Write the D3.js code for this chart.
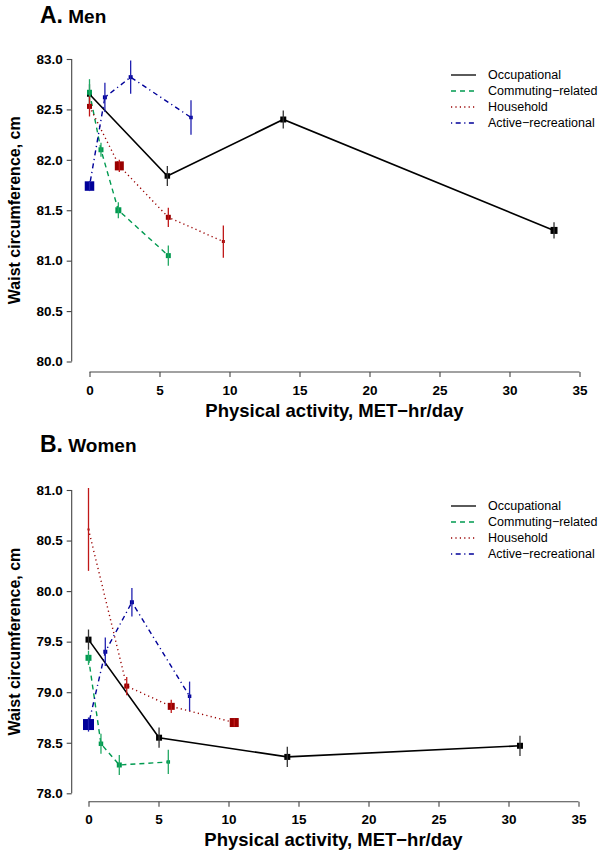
<!DOCTYPE html>
<html><head><meta charset="utf-8">
<script src="https://cdn.jsdelivr.net/npm/d3@7"></script>
<style>
body{margin:0;background:#fff;}
svg{display:block;font-family:"Liberation Sans",Arial,Helvetica,sans-serif;}
</style></head>
<body>
<svg id="chart" width="600" height="854"></svg>
<script>
// ---- data ----
const seriesNames = ["Occupational", "Commuting\u2212related", "Household", "Active\u2212recreational"];
const xTicks = [0, 5, 10, 15, 20, 25, 30, 35];
const yTicksMen = [80.0, 80.5, 81.0, 81.5, 82.0, 82.5, 83.0];
const yTicksWomen = [78.0, 78.5, 79.0, 79.5, 80.0, 80.5, 81.0];

// Men
const menOccX = [0, 5.56, 13.84, 33.18];
const menOccY = [82.65, 81.84, 82.40, 81.30];
const menOccErr = [0.10, 0.10, 0.09, 0.08];
const menOccW = [5, 5.5, 6, 7];
const menComX = [0, 0.82, 2.06, 5.63];
const menComY = [82.67, 82.10, 81.50, 81.05];
const menComErr = [0.13, 0.07, 0.08, 0.10];
const menComW = [5, 5, 6, 5];
const menHouX = [0, 2.13, 5.63, 9.56];
const menHouY = [82.53, 81.94, 81.43, 81.19];
const menHouErr = [0.10, 0.06, 0.095, 0.16];
const menHouW = [5, 9, 5, 3];
const menRecX = [0, 1.10, 2.94, 7.25];
const menRecY = [81.74, 82.62, 82.82, 82.42];
const menRecErr = [0.05, 0.145, 0.165, 0.17];
const menRecW = [9.5, 4, 4, 3.5];

// Women
const womOccX = [0, 5.04, 14.2, 30.82];
const womOccY = [79.52, 78.55, 78.36, 78.47];
const womOccErr = [0.10, 0.10, 0.10, 0.10];
const womOccW = [6, 6, 6, 6];
const womComX = [0, 0.89, 2.2, 5.7];
const womComY = [79.34, 78.49, 78.28, 78.31];
const womComErr = [0.07, 0.10, 0.10, 0.12];
const womComW = [6, 4.5, 5, 3.5];
const womHouX = [0, 2.73, 5.91, 10.41];
const womHouY = [80.61, 79.06, 78.86, 78.70];
const womHouErr = [0.41, 0.09, 0.065, 0.04];
const womHouW = [2, 5, 7, 9];
const womRecX = [0, 1.2, 3.1, 7.22];
const womRecY = [78.68, 79.40, 79.89, 78.96];
const womRecErr = [0.07, 0.14, 0.14, 0.145];
const womRecW = [11, 4, 4, 3.5];

// ---- styles ----
const colors = ["#000000", "#009a50", "#990000", "#000099"];
const errColors = ["#333333", "#22a864", "#c01818", "#2020b0"];
const dashes = [null, "5,4", "1.2,3.2", "1.2,3.5,5,3.5"];
const lineW = [1.6, 1.4, 1.4, 1.4];

const svg = d3.select("#chart");

function build(xs, ys, es, ws) {
  return xs.map((x, i) => ({x: x, y: ys[i], e: es[i], w: ws[i]}));
}

function panel(opt) {
  const x = d3.scaleLinear().domain([0, 35]).range([opt.x0, opt.x1]);
  const y = d3.scaleLinear().domain(opt.yDomain).range([opt.yBottom, opt.yTop]);
  const g = svg.append("g");

  // x axis
  const xa = g.append("g").attr("transform", `translate(0,${opt.xAxisY})`)
    .call(d3.axisBottom(x).tickValues(xTicks).tickSize(5).tickSizeOuter(0).tickPadding(8).tickFormat(d3.format("d")));
  // y axis
  const ya = g.append("g").attr("transform", `translate(${opt.yAxisX},0)`)
    .call(d3.axisLeft(y).tickValues(opt.yTicks).tickSize(5).tickSizeOuter(0).tickPadding(4).tickFormat(d3.format(".1f")));
  [xa, ya].forEach(a => {
    a.select(".domain").attr("stroke", "#444").attr("stroke-width", 1.1);
    a.selectAll(".tick line").attr("stroke", "#444").attr("stroke-width", 1.1);
    a.selectAll(".tick text").attr("fill", "#000").style("font-size", "13.5px").style("font-weight", "bold")
      .style("font-family", '"Liberation Sans",Arial,sans-serif');
  });
  xa.select(".domain").attr("d", `M${x(0)},0H${x(35)}`);
  ya.select(".domain").attr("d", `M0,${y(opt.yDomain[0])}V${y(opt.yDomain[1])}`);

  // series
  opt.series.forEach((s, k) => {
    const sg = g.append("g");
    const line = d3.line().x(d => x(d.x)).y(d => y(d.y));
    sg.append("path").datum(s).attr("d", line).attr("fill", "none")
      .attr("stroke", colors[k]).attr("stroke-width", lineW[k])
      .attr("stroke-dasharray", dashes[k]);
    sg.selectAll("rect").data(s).join("rect")
      .attr("x", d => x(d.x) - d.w / 2).attr("y", d => y(d.y) - d.w / 2)
      .attr("width", d => d.w).attr("height", d => d.w).attr("fill", colors[k]);
    sg.selectAll("line.err").data(s).join("line").attr("class", "err")
      .attr("x1", d => x(d.x)).attr("x2", d => x(d.x))
      .attr("y1", d => y(d.y - d.e)).attr("y2", d => y(d.y + d.e))
      .attr("stroke", errColors[k]).attr("stroke-width", 1.3);
  });

  // legend
  const lg = g.append("g");
  seriesNames.forEach((n, k) => {
    const yy = opt.legendY + k * 16;
    lg.append("line").attr("x1", 451).attr("x2", 476).attr("y1", yy).attr("y2", yy)
      .attr("stroke", colors[k]).attr("stroke-width", 1.3).attr("stroke-dasharray", dashes[k]);
    lg.append("text").attr("x", 488).attr("y", yy).attr("dy", "0.35em")
      .style("font-size", "12.5px").text(n);
  });

  // titles
  const t = g.append("text").attr("x", 40).attr("y", opt.titleY).style("font-weight", "bold");
  t.append("tspan").style("font-size", "23px").text(opt.letter);
  t.append("tspan").style("font-size", "19px").text(" " + opt.title);

  g.append("text").attr("x", (x(0) + x(35)) / 2).attr("y", opt.xTitleY).attr("text-anchor", "middle")
    .style("font-weight", "bold").style("font-size", "18.5px").text("Physical activity, MET\u2212hr/day");

  g.append("text").attr("transform", `translate(20,${(y(opt.yDomain[0]) + y(opt.yDomain[1])) / 2}) rotate(-90)`)
    .attr("text-anchor", "middle").style("font-weight", "bold").style("font-size", "16px")
    .text("Waist circumference, cm");
}

panel({
  x0: 89.5, x1: 579.5, yDomain: [80, 83], yBottom: 361.5, yTop: 59,
  xAxisY: 372, yAxisX: 71.7, yTicks: yTicksMen, legendY: 75, titleY: 23,
  letter: "A.", title: "Men", xTitleY: 417,
  series: [build(menOccX, menOccY, menOccErr, menOccW), build(menComX, menComY, menComErr, menComW),
           build(menHouX, menHouY, menHouErr, menHouW), build(menRecX, menRecY, menRecErr, menRecW)]
});

panel({
  x0: 88.5, x1: 578.5, yDomain: [78, 81], yBottom: 793.3, yTop: 490,
  xAxisY: 801.7, yAxisX: 71.7, yTicks: yTicksWomen, legendY: 506, titleY: 452,
  letter: "B.", title: "Women", xTitleY: 846,
  series: [build(womOccX, womOccY, womOccErr, womOccW), build(womComX, womComY, womComErr, womComW),
           build(womHouX, womHouY, womHouErr, womHouW), build(womRecX, womRecY, womRecErr, womRecW)]
});
</script>
</body></html>
